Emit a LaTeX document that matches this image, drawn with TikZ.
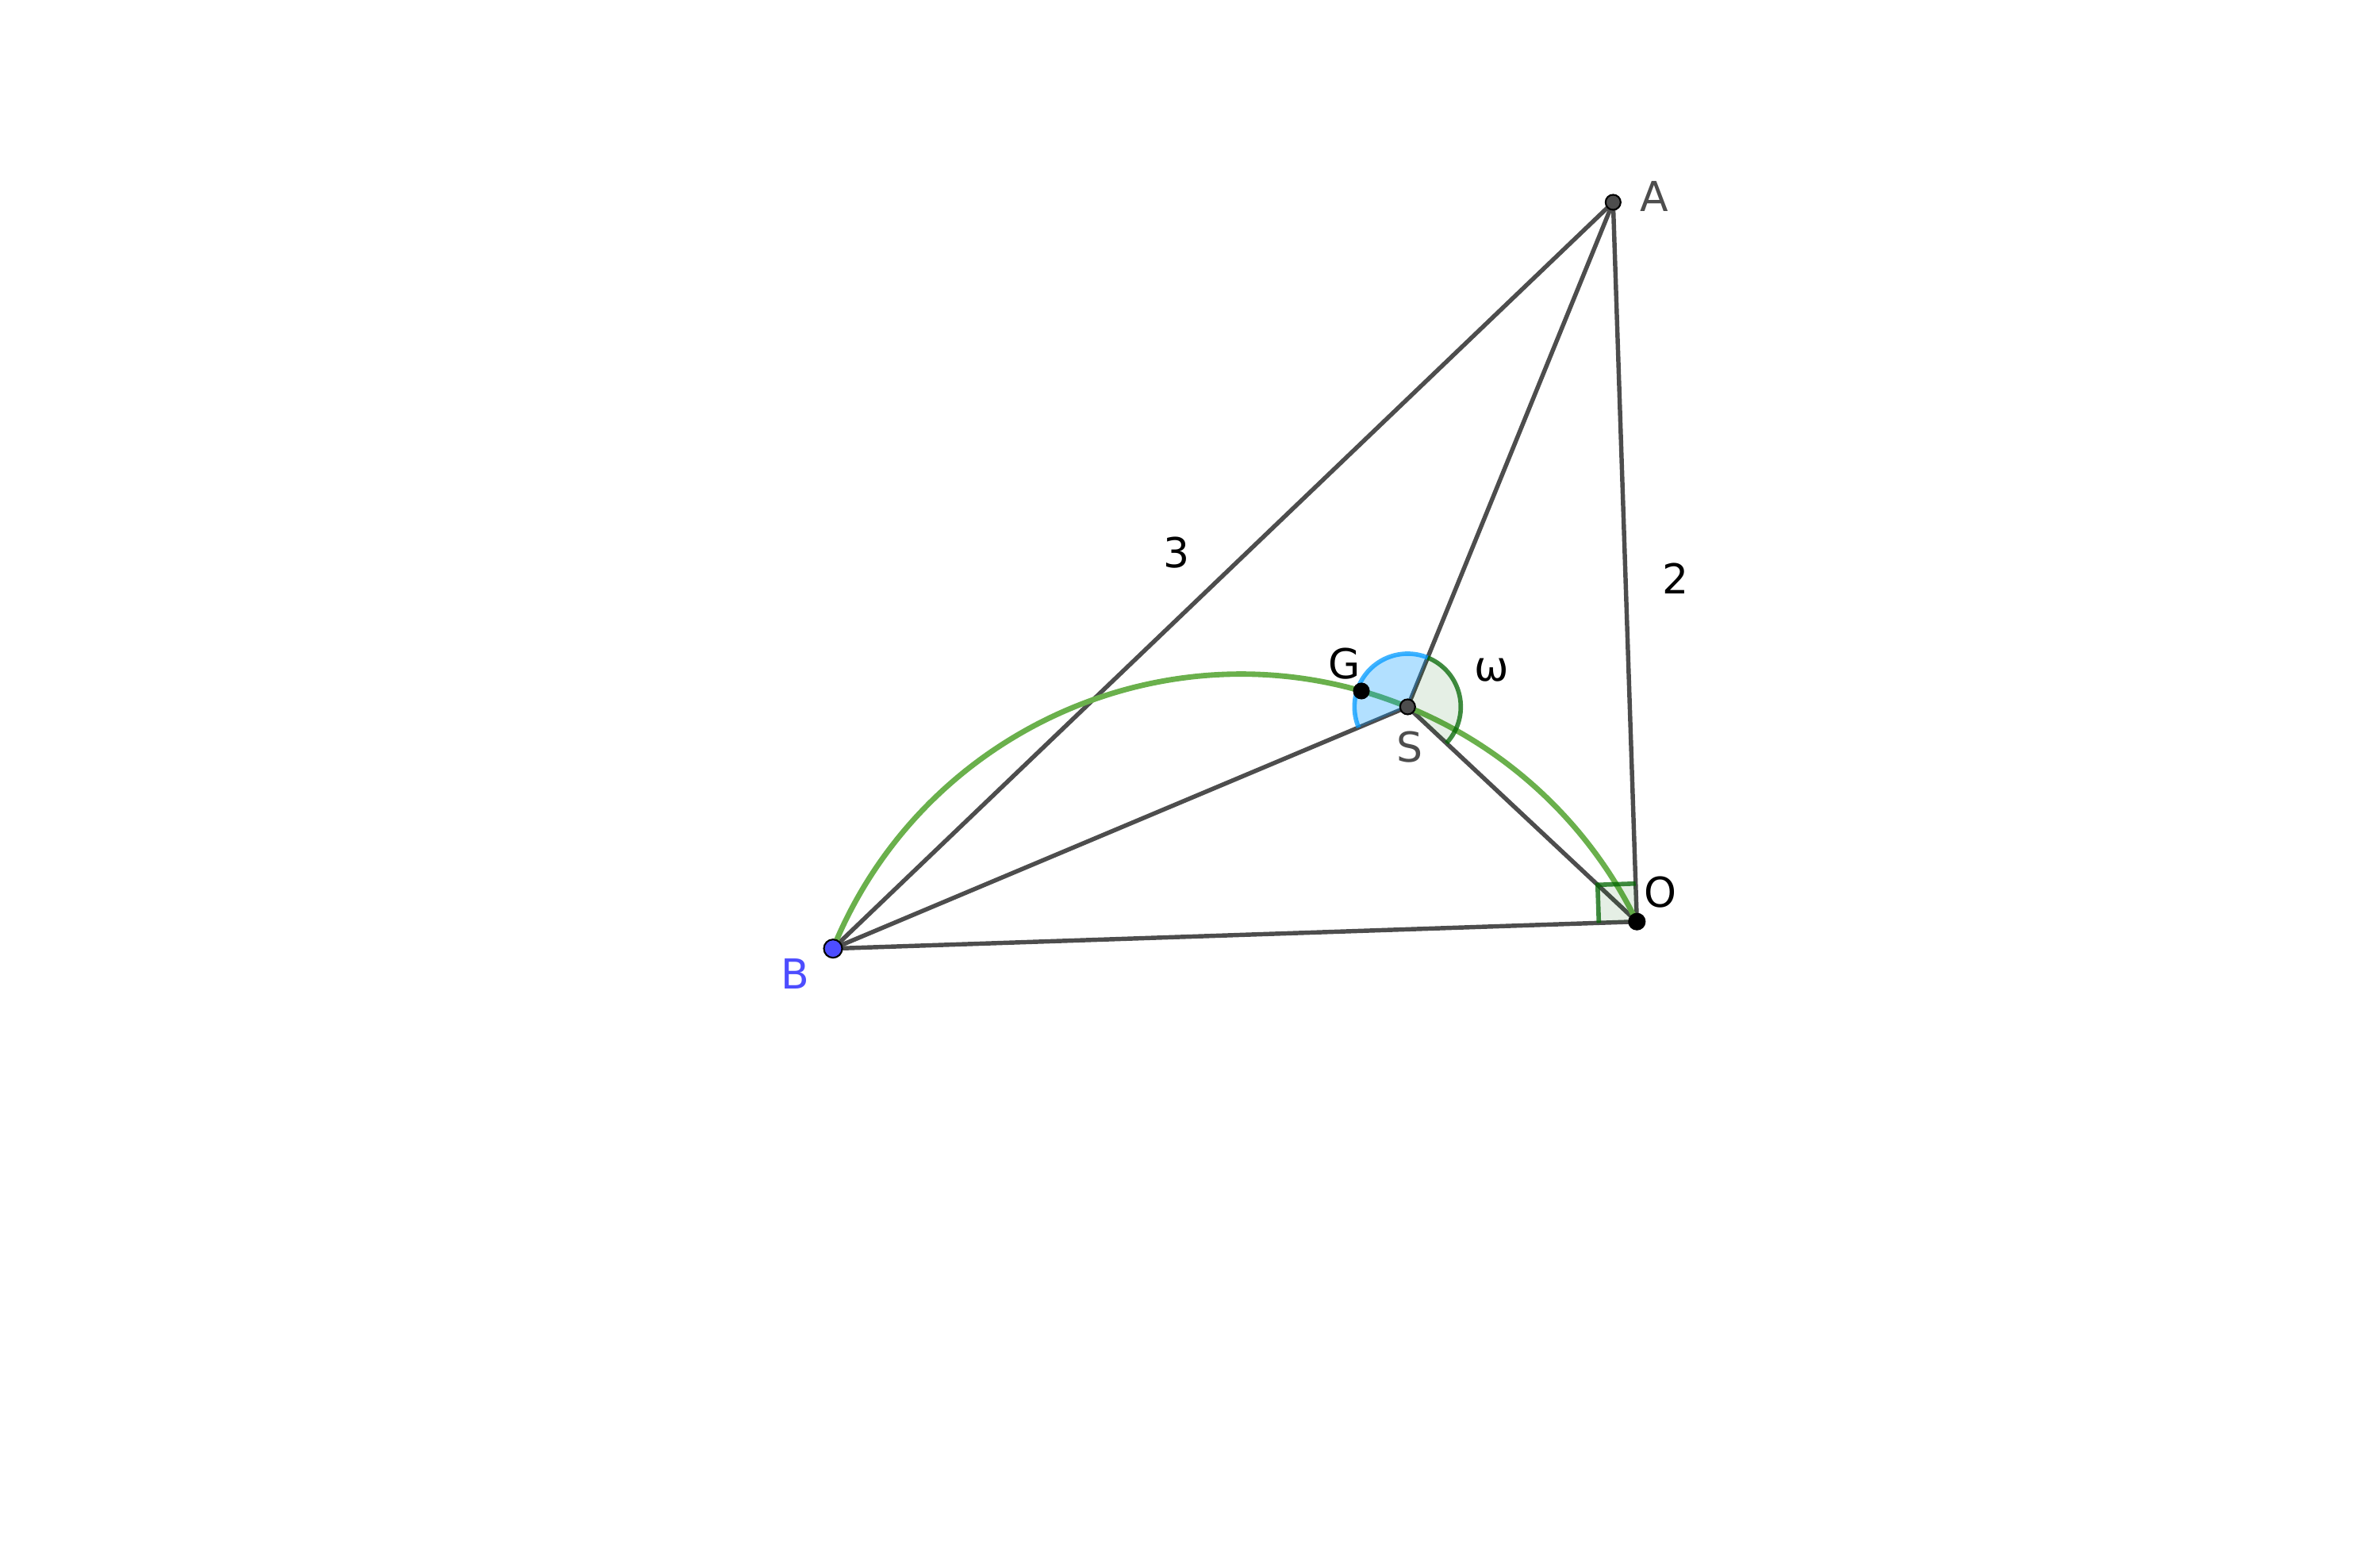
\documentclass[tikz,border=0pt]{standalone}
\usepackage{fontspec}
\setmainfont{DejaVu Sans}
\usepackage{tikz}
\usetikzlibrary{angles,positioning}

\definecolor{seggray}{RGB}{77,77,77}
\definecolor{ptblue}{RGB}{77,77,255}
\definecolor{arcgreen}{RGB}{106,176,76}
\definecolor{angblue}{RGB}{0,153,255}
\definecolor{anggreen}{RGB}{0,100,0}

\begin{document}
\begin{tikzpicture}[
        seg/.style={draw=seggray, line width=1.55pt},
        dot/.style={circle, draw=black, line width=0.6pt, inner sep=0pt, minimum size=0.19cm},
        lbl/.style={font=\fontsize{14.8}{17}\selectfont, inner sep=0pt},
        bluewedge/.style={draw=angblue, draw opacity=0.75, fill=angblue, fill opacity=0.3, line width=1.6pt, angle radius=0.67cm},
        greenwedge/.style={draw=anggreen, draw opacity=0.75, fill=anggreen, fill opacity=0.1, line width=1.6pt, angle radius=0.67cm}]
        \useasboundingbox (0,0) rectangle (30,19.55);

        % the points - taken from the construction, 1 unit = 4.537cm
        \coordinate (A) at (20.333,17.00);
        \coordinate (B) at (10.50,7.593);
        \coordinate (O) at (20.633,7.933);
        \coordinate (S) at (17.743,10.64);
        \coordinate (G) at (17.16,10.84);

        % sides and the three segments from S
        \draw[seg] (A)--(B);        % side of length 3
        \draw[seg] (A)--(O);        % side of length 2
        \draw[seg] (B)--(O);
        \draw[seg] (S)--(A);
        \draw[seg] (S)--(B);
        \draw[seg] (S)--(O);

        % arc through B, G, S and O
        \draw[arcgreen, line width=1.95pt] (B) arc[start angle=157.86, end angle=25.98, radius=5.551];

        % angle marks
        \pic[bluewedge] {angle = A--S--B};          % 135 degrees
        \pic[greenwedge] {angle = O--S--A};         % omega
        \pic[greenwedge, angle radius=0.48cm] {right angle = A--O--B};

        % dots on top
        \node[dot, fill=seggray] (dA) at (A) {};
        \node[dot, fill=ptblue, minimum size=0.23cm] (dB) at (B) {};
        \node[dot, fill=black, minimum size=0.2cm] (dO) at (O) {};
        \node[dot, fill=seggray] (dS) at (S) {};
        \node[dot, fill=black] (dG) at (G) {};

        % labels
        \node[lbl, text=seggray] (lA) at (20.85,17.07) {A};
        \node[lbl, text=ptblue] (lB) at (10.02,7.27) {B};
        \node[lbl] (lO) at (20.93,8.30) {O};
        \node[lbl, text=seggray] (lS) at (17.77,10.13) {S};
        \node[lbl] (lG) at (16.95,11.18) {G};
        \node[lbl] (lw) at (18.80,11.10) {ω};
        \node[lbl] (l3) at (14.83,12.58) {3};
        \node[lbl] (l2) at (21.12,12.26) {2};
\end{tikzpicture}
\end{document}
